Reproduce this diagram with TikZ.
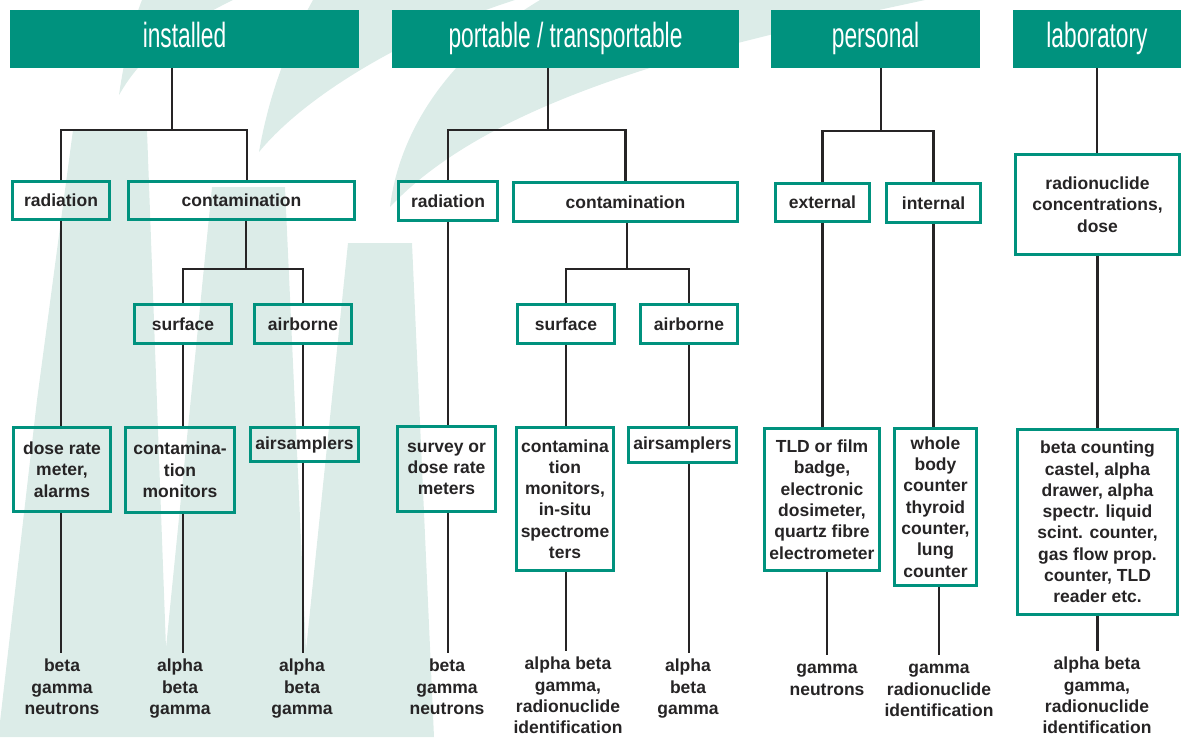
\documentclass[tikz,border=0pt]{standalone}
\usepackage{fontspec}
\setmainfont{Liberation Sans}
\usepackage{graphicx}
\usepackage{xcolor}
\definecolor{verdeHead}{RGB}{0,146,126}
\definecolor{verdeMarca}{RGB}{220,236,232}
\definecolor{grisTexto}{RGB}{38,36,37}
\usepackage{tikz}
\usetikzlibrary{positioning}
\newcommand{\htxt}[1]{\scalebox{0.65}[1]{#1}}

\begin{document}
\begin{tikzpicture}[
  x=1pt, y=-1pt,
  head/.style={rectangle, fill=verdeHead, text=white, minimum height=58pt,
               inner sep=0pt, text height=25pt, text depth=9pt,
               font=\fontsize{35}{40}\selectfont},
  box/.style={rectangle, draw=verdeHead, line width=2.8pt, align=center,
              inner sep=0pt, text=grisTexto,
              font=\bfseries\fontsize{17.5}{21.3}\selectfont},
  res/.style={anchor=north, align=center, inner sep=0pt, outer sep=4pt,
              text=grisTexto, font=\bfseries\fontsize{17.5}{21.3}\selectfont},
  conn/.style={draw=grisTexto, line width=2.6pt},
  wmark/.style={fill=verdeMarca}
]
  \useasboundingbox (0,0) rectangle (1186,737);

  % Marca de agua (fondo)
  \fill[wmark] (73,130) -- (147,130) -- (166,648) -- (212,187) -- (285,187)
    -- (306,650) -- (348,243) -- (412,243) -- (434,737) -- (0,737) -- (0,722)
    -- (37,400) -- cycle;
  \fill[wmark] (119,95) .. controls (124,60) and (132,25) .. (142,0) -- (233,0)
    .. controls (150,40) and (128,80) .. (119,95) -- cycle;
  \fill[wmark] (259,152) .. controls (268,100) and (285,50) .. (313,0) -- (515,0)
    .. controls (420,30) and (310,90) .. (259,152) -- cycle;
  \fill[wmark] (390,207) .. controls (398,140) and (440,60) .. (540,0) -- (925,0)
    .. controls (740,40) and (500,90) .. (390,207) -- cycle;

  % Cabeceras
  \node[head, minimum width=349pt] (hInst) at (184.5,39) {\htxt{installed}};
  \node[head, minimum width=347pt] (hPort) at (565.5,39) {\htxt{portable / transportable}};
  \node[head, minimum width=209pt] (hPers) at (875.5,39) {\htxt{personal}};
  \node[head, minimum width=168pt] (hLab) at (1097,39) {\htxt{laboratory}};

  % installed
  \node[box, minimum width=97pt, minimum height=38pt] (instRad) at (61,200.5) {radiation};
  \node[box, minimum width=226pt, minimum height=38pt] (instCont) at (241.5,200.5) {contamination};
  \node[box, minimum width=97pt, minimum height=39pt] (instSurf) at (183,324) {surface};
  \node[box, minimum width=97pt, minimum height=39pt] (instAir) at (303,324) {airborne};
  \node[box, minimum width=97pt, minimum height=84pt] (instDose) at (62,469.5) {dose rate\\meter,\\alarms};
  \node[box, minimum width=109pt, minimum height=85pt] (instMon) at (180,470) {contamina-\\tion\\monitors};
  \node[box, minimum width=108pt, minimum height=34pt] (instSampl) at (304.5,444.5) {airsamplers};
  \node[res] (resDose) at (62,653) {\strut beta\\gamma\\neutrons};
  \node[res] (resMon) at (180,653) {\strut alpha\\beta\\gamma};
  \node[res] (resSampl) at (302,653) {\strut alpha\\beta\\gamma};

  % portable / transportable
  \node[box, minimum width=99pt, minimum height=39pt] (portRad) at (448,201) {radiation};
  \node[box, minimum width=224pt, minimum height=39pt] (portCont) at (625.5,202) {contamination};
  \node[box, minimum width=97pt, minimum height=39pt] (portSurf) at (566,324) {surface};
  \node[box, minimum width=97pt, minimum height=39pt] (portAir) at (689,324) {airborne};
  \node[box, minimum width=98pt, minimum height=85pt] (portSurv) at (446.5,469) {survey or\\dose rate\\meters};
  \node[box, minimum width=97pt, minimum height=143pt] (portMon) at (565,499) {contamina\\tion\\monitors,\\in-situ\\spectrome\\ters};
  \node[box, minimum width=108pt, minimum height=35pt] (portSampl) at (682.5,445) {airsamplers};
  \node[res] (resSurv) at (447,653) {\strut beta\\gamma\\neutrons};
  \node[res] (resPMon) at (568,651) {\strut alpha beta\\gamma,\\radionuclide\\identification};
  \node[res] (resPSampl) at (688,653) {\strut alpha\\beta\\gamma};

  % personal
  \node[box, minimum width=94pt, minimum height=38pt] (persExt) at (822.5,202.5) {external};
  \node[box, minimum width=94pt, minimum height=39pt] (persInt) at (933.5,203) {internal};
  \node[box, minimum width=115pt, minimum height=142pt] (persTLD) at (822,499.5) {TLD or film\\badge,\\electronic\\dosimeter,\\quartz fibre\\electrometer};
  \node[box, minimum width=82pt, minimum height=157pt] (persWBC) at (935.5,507) {whole\\body\\counter\\thyroid\\counter,\\lung\\counter};
  \node[res] (resTLD) at (827,655) {\strut gamma\\neutrons};
  \node[res] (resWBC) at (939,655) {\strut gamma\\radionuclide\\identification};

  % laboratory
  \node[box, minimum width=164pt, minimum height=100pt] (labConc) at (1097.5,204.5) {radionuclide\\concentrations,\\dose};
  \node[box, minimum width=160pt, minimum height=185pt] (labCount) at (1097.5,522) {beta counting\\castel, alpha\\drawer, alpha\\spectr. liquid\\scint. counter,\\gas flow prop.\\counter, TLD\\reader etc.};
  \node[res] (resLab) at (1097,651) {\strut alpha beta\\gamma,\\radionuclide\\identification};

  % Conectores installed
  \coordinate (jInst) at (172,130);
  \coordinate (kInst) at (247,130);
  \coordinate (jInstC) at (246,269);
  \draw[conn] (hInst.south -| jInst) -- (jInst);
  \draw[conn] (instRad.north) |- (kInst) -- (kInst |- instCont.north);
  \draw[conn] (instCont.south -| jInstC) -- (jInstC);
  \draw[conn] (instSurf.north) |- (jInstC) -| (instAir.north);
  \draw[conn] (instRad.south) -- (instRad.south |- instDose.north);
  \draw[conn] (instSurf.south) -- (instSurf.south |- instMon.north);
  \draw[conn] (instAir.south) -- (instAir.south |- instSampl.north);
  \draw[conn] (instRad.south |- instDose.south) -- (instRad.south |- resDose.north);
  \draw[conn] (instSurf.south |- instMon.south) -- (instSurf.south |- resMon.north);
  \draw[conn] (instAir.south |- instSampl.south) -- (instAir.south |- resSampl.north);

  % Conectores portable
  \coordinate (jPort) at (548,130);
  \coordinate (jPortC) at (627,269);
  \draw[conn] (hPort.south -| jPort) -- (jPort);
  \draw[conn] (portRad.north) |- (jPort) -| (portCont.north);
  \draw[conn] (portCont.south -| jPortC) -- (jPortC);
  \draw[conn] (portSurf.north) |- (jPortC) -| (portAir.north);
  \draw[conn] (portRad.south) -- (portRad.south |- portSurv.north);
  \draw[conn] (portSurf.south) -- (portSurf.south |- portMon.north);
  \draw[conn] (portAir.south) -- (portAir.south |- portSampl.north);
  \draw[conn] (portRad.south |- portSurv.south) -- (portRad.south |- resSurv.north);
  \draw[conn] (portSurf.south |- portMon.south) -- (portSurf.south |- resPMon.north);
  \draw[conn] (portAir.south |- portSampl.south) -- (portAir.south |- resPSampl.north);

  % Conectores personal
  \coordinate (jPers) at (881,131);
  \draw[conn] (hPers.south -| jPers) -- (jPers);
  \draw[conn] (persExt.north) |- (jPers) -| (persInt.north);
  \draw[conn] (persExt.south) -- (persExt.south |- persTLD.north);
  \draw[conn] (persInt.south) -- (persInt.south |- persWBC.north);
  \draw[conn] (persTLD.south -| resTLD.north) -- (resTLD.north);
  \draw[conn] (persWBC.south -| resWBC.north) -- (resWBC.north);

  % Conectores laboratory
  \draw[conn] (hLab.south) -- (hLab.south |- labConc.north);
  \draw[conn] (labConc.south) -- (labConc.south |- labCount.north);
  \draw[conn] (labCount.south) -- (labCount.south |- resLab.north);
\end{tikzpicture}
\end{document}
